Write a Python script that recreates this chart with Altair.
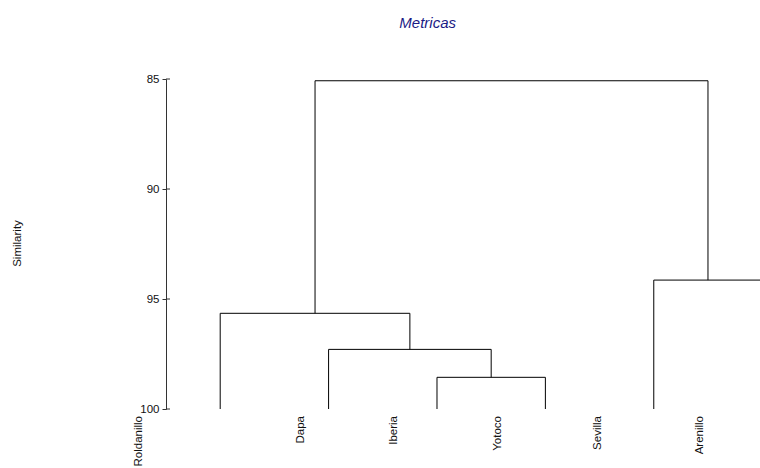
import altair as alt
import pandas as pd

# Leaves in drawing order and their positions along the x axis
leaves = ["Roldanillo", "Dapa", "Iberia", "Yotoco", "Sevilla", "Arenillo"]
leaf_x = [1, 2, 3, 4, 5, 6]
# Positions of the rotated leaf captions on the same axis
label_x = [0.25, 1.741, 2.599, 3.567, 4.485, 5.422]

# Agglomeration steps: (left member, right member, similarity)
# members are leaf names or earlier step ids
merge_left = ["Iberia", "Dapa", "Roldanillo", "Sevilla", "m3"]
merge_right = ["Yotoco", "m1", "m2", "Arenillo", "m4"]
merge_sim = [98.56, 97.29, 95.65, 94.14, 85.08]
merge_ids = ["m1", "m2", "m3", "m4", "m5"]

y_ticks = [85, 90, 95, 100]

# Build the dendrogram segments from the merge table
node_x = dict(zip(leaves, leaf_x))
node_y = {name: 100 for name in leaves}
segs = []
for mid, a, b, h in zip(merge_ids, merge_left, merge_right, merge_sim):
    xa, xb = node_x[a], node_x[b]
    segs.append({"x": xa, "x2": xa, "y": node_y[a], "y2": h})
    segs.append({"x": xb, "x2": xb, "y": node_y[b], "y2": h})
    segs.append({"x": xa, "x2": xb, "y": h, "y2": h})
    node_x[mid] = (xa + xb) / 2
    node_y[mid] = h
seg_df = pd.DataFrame(segs)
lab_df = pd.DataFrame({"name": leaves, "pos": label_x})
tick_df = pd.DataFrame({"v": y_ticks})

FONT = "Liberation Sans"
xscale = alt.Scale(domain=[0.5, 5.98], nice=False, zero=False)
yscale = alt.Scale(domain=[85, 100], reverse=True, nice=False, zero=False)

xenc = alt.X("x:Q", scale=xscale, axis=None)
yenc = alt.Y(
    "y:Q",
    scale=yscale,
    axis=alt.Axis(
        values=y_ticks,
        title="Similarity",
        titleFont=FONT,
        titleFontSize=11.5,
        titleFontWeight="normal",
        titleColor="#111111",
        titleAngle=270,
        titleX=-148.5,
        titleY=164,
        titleAlign="center",
        titleBaseline="middle",
        labelFont=FONT,
        labelFontSize=11.5,
        labelColor="#111111",
        labelPadding=3,
        tickSize=4,
        tickColor="#333333",
        domainColor="#333333",
        grid=False,
    ),
)

branches = alt.Chart(seg_df).mark_rule(color="black", strokeWidth=1).encode(
    x=xenc, x2="x2:Q", y=yenc, y2="y2:Q"
)

# inner half of the crossing ticks
inner_ticks = alt.Chart(tick_df).mark_rule(color="#333333", strokeWidth=1).encode(
    y=alt.Y("v:Q", scale=yscale), x=alt.value(0), x2=alt.value(4)
)

captions = alt.Chart(lab_df).mark_text(
    angle=270, align="right", baseline="middle", font=FONT, fontSize=11.5, color="#111111"
).encode(
    x=alt.X("pos:Q", scale=xscale), y=alt.value(337), text="name:N"
)

heading = alt.Chart(pd.DataFrame({"t": ["Metricas"]})).mark_text(
    font=FONT, fontSize=15, fontStyle="italic", color="#1a1a85",
    align="center", baseline="alphabetic",
).encode(x=alt.value(261.7), y=alt.value(-51.5), text="t:N")

chart = (
    alt.layer(branches, inner_ticks, captions, heading)
    .properties(
        width=594,
        height=330,
        autosize=alt.AutoSizeParams(type="none"),
        padding={"left": 166, "top": 79, "right": 0, "bottom": 59},
        background="white",
    )
    .configure_view(stroke=None)
)

chart.save("out.html", embed_options={"renderer": "svg", "actions": False})
